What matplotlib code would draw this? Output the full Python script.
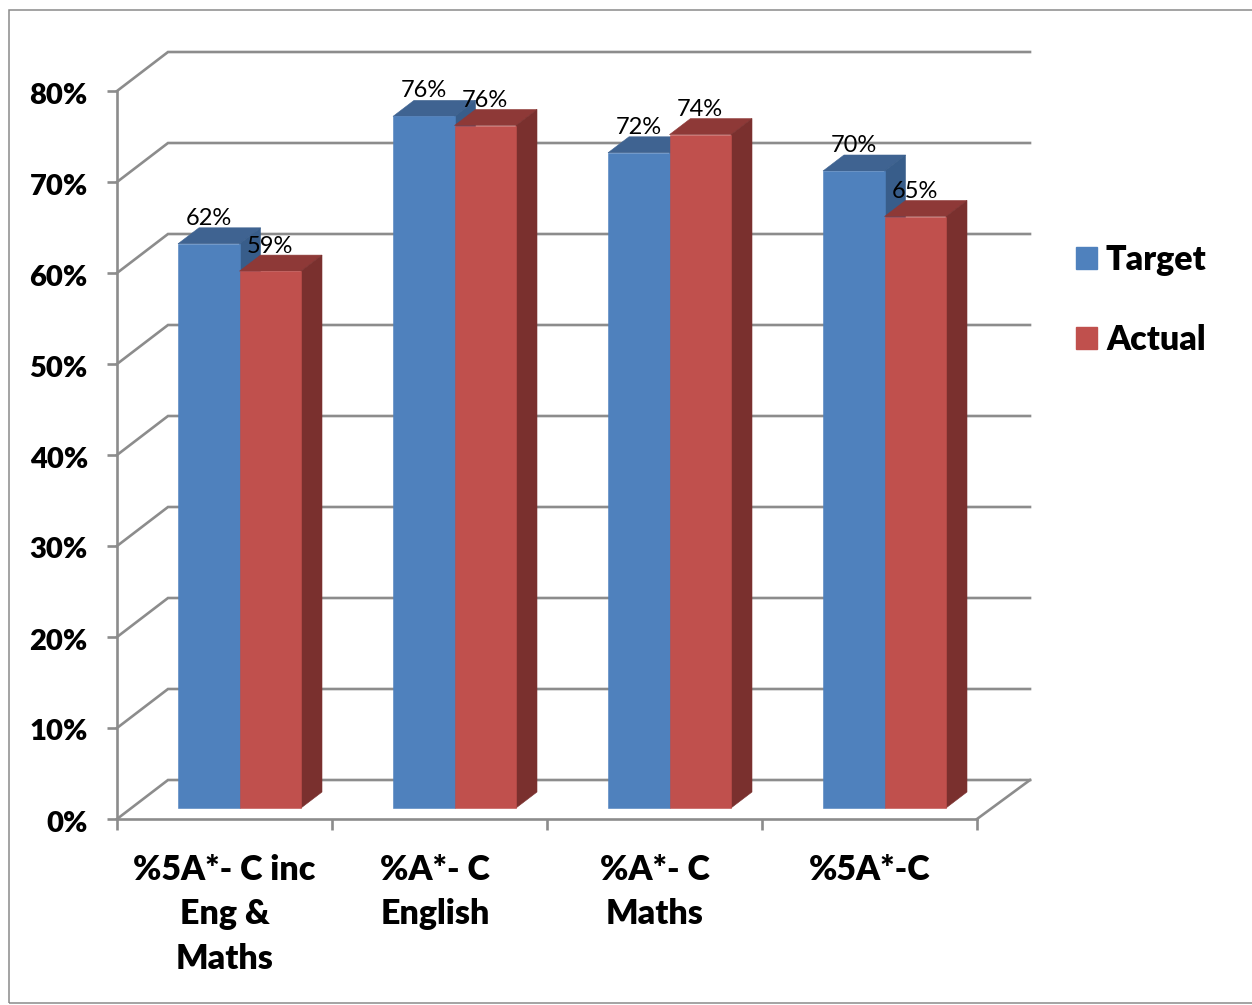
import matplotlib
matplotlib.use("Agg")
import matplotlib.pyplot as plt
from matplotlib.patches import Patch, Rectangle, Polygon
from matplotlib.transforms import Affine2D

categories = ["%5A*- C inc\nEng &\nMaths", "%A*- C\nEnglish", "%A*- C\nMaths", "%5A*-C"]
target = [62, 76, 72, 70]
actual = [59, 75, 74, 65]
target_labels = ["62%", "76%", "72%", "70%"]
actual_labels = ["59%", "76%", "74%", "65%"]
y_ticks = [0, 10, 20, 30, 40, 50, 60, 70, 80]

W, H = 1252, 1005
plt.rcParams["font.family"] = ["Lato", "DejaVu Sans"]
GRAY = "#8C8C8C"
BLUE, BLUE_TOP, BLUE_SIDE = "#4F81BD", "#3F6391", "#385D8A"
RED, RED_TOP, RED_SIDE = "#C0504D", "#8E3937", "#7A302E"

fig = plt.figure(figsize=(W / 100, H / 100), dpi=100, facecolor="white")
fig.add_artist(Rectangle((9 / W, 1 - 1003 / H), 1260 / W, 993 / H, transform=fig.transFigure,
                         fill=False, ec="#8A8A8A", lw=1.1))
ax = fig.add_axes([117 / W, 1 - 819 / H, 860 / W, 728 / H])
ax.set_xlim(0, 4)
ax.set_ylim(0, 80)
ax.patch.set_alpha(0)
PX = 4 / 860
PY = 80 / 728

# walls
wall_dx, wall_dy = 51 * PX, 39 * PY
right_end = 4 + 53 * PX
for v in y_ticks:
    ax.plot([0, wall_dx, right_end], [v, v + wall_dy, v + wall_dy], color=GRAY, lw=1.9,
            clip_on=False, zorder=1, solid_joinstyle="miter")
ax.plot([4, right_end], [0, wall_dy], color=GRAY, lw=1.9, clip_on=False, zorder=1)

# bars
bar_w = 61.5 * PX
base = 11 * PY
depth_x, depth_y = 21 * PX, 16 * PY
start = 61 * PX


def bar3d(x, val, front, top, side, z):
    y = base + val
    ax.add_patch(Polygon([(x, y), (x + depth_x, y + depth_y), (x + bar_w + depth_x, y + depth_y), (x + bar_w, y)],
                         fc=top, ec=top, lw=0.4, zorder=z, clip_on=False))
    ax.add_patch(Polygon([(x + bar_w, base), (x + bar_w + depth_x, base + depth_y),
                          (x + bar_w + depth_x, y + depth_y), (x + bar_w, y)],
                         fc=side, ec=side, lw=0.4, zorder=z + 0.1, clip_on=False))
    ax.bar(x, val, bottom=base, width=bar_w, align="edge", color=front, ec=front, lw=0.4,
           zorder=z + 0.2, clip_on=False)


for i in range(len(categories)):
    x0 = i + start
    bar3d(x0, target[i], BLUE, BLUE_TOP, BLUE_SIDE, 2)
    bar3d(x0 + bar_w, actual[i], RED, RED_TOP, RED_SIDE, 3)
    ax.text(x0 + bar_w / 2, base + target[i] + 25.5 * PY, target_labels[i], ha="center", va="center",
            fontsize=17, color="black", zorder=6)
    ax.text(x0 + bar_w * 1.5, base + actual[i] + 25 * PY, actual_labels[i], ha="center", va="center",
            fontsize=17, color="black", zorder=6)

# axes furniture
for s in ("top", "right"):
    ax.spines[s].set_visible(False)
for s in ("left", "bottom"):
    ax.spines[s].set_color(GRAY)
    ax.spines[s].set_linewidth(1.9)
    ax.spines[s].set_zorder(5)
ax.set_yticks(y_ticks)
ax.set_yticklabels([f"{v}%" for v in y_ticks], fontsize=21, fontweight="heavy")
ax.tick_params(axis="y", length=7, width=1.9, color=GRAY, pad=14)
for lab in ax.get_yticklabels():
    lab.set_transform(lab.get_transform() + Affine2D().translate(0, -2))
ax.set_xticks(range(5))
ax.set_xticklabels([])
ax.tick_params(axis="x", which="major", length=8, width=1.9, color=GRAY)
ax.set_xticks([i + 0.5 for i in range(4)], minor=True)
ax.set_xticklabels(categories, minor=True, fontsize=24.5, fontweight="heavy", linespacing=1.49, ma="center")
ax.tick_params(axis="x", which="minor", length=0, pad=25)
ax.get_xticklabels(minor=True)[1].set_transform(
    ax.get_xticklabels(minor=True)[1].get_transform() + Affine2D().translate(-4.5, 0))

leg = fig.legend(handles=[Patch(color=BLUE, label="Target"), Patch(color=RED, label="Actual")],
                 loc="upper left", bbox_to_anchor=(1076 / W, 1 - 244 / H), frameon=False,
                 prop={"size": 24.5, "weight": "heavy"}, borderpad=0, borderaxespad=0,
                 handlelength=0.62, handleheight=0.62, handletextpad=0.26, labelspacing=1.42)

fig.savefig("out.png", dpi=100)
